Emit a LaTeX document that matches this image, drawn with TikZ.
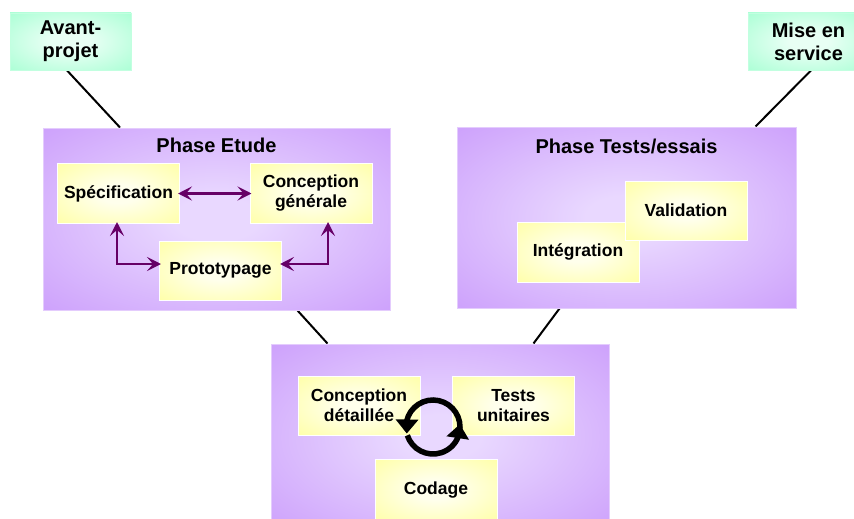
\documentclass[tikz,border=0pt]{standalone}
\usepackage{fontspec}
\setmainfont{Liberation Sans}
\usepackage{tikz}
\usetikzlibrary{positioning, arrows.meta, bending, backgrounds}
\definecolor{lilac}{HTML}{C999FB}
\definecolor{lilaclight}{HTML}{E9D8FF}
\definecolor{paleyellow}{HTML}{FFFF99}
\definecolor{yellowlight}{HTML}{FFFFEC}
\definecolor{mint}{HTML}{99FFCC}
\definecolor{mintlight}{HTML}{E8FFF4}
\definecolor{plum}{HTML}{660066}
\pgfdeclareradialshading{lilacglow}{\pgfpointorigin}{color(0bp)=(lilaclight); color(6bp)=(lilaclight); color(40bp)=(lilac); color(100bp)=(lilac)}
\pgfdeclareradialshading{yellowglow}{\pgfpointorigin}{color(0bp)=(yellowlight); color(8bp)=(yellowlight); color(42bp)=(paleyellow); color(100bp)=(paleyellow)}
\pgfdeclareradialshading{mintglow}{\pgfpointorigin}{color(0bp)=(mintlight); color(8bp)=(mintlight); color(44bp)=(mint); color(100bp)=(mint)}
\newcommand\stagefont{\fontsize{17.5}{20}\selectfont\bfseries}
\newcommand\phasefont{\fontsize{20}{23}\selectfont\bfseries}
\tikzset{
  milestone/.style={draw=white!40!mint, line width=0.8pt, shading=mintglow, align=center, font=\phasefont, minimum width=121pt, minimum height=57pt, inner sep=0pt},
  phase/.style={draw=white!50!lilac, line width=1pt, shading=lilacglow, inner sep=0pt},
  phasetitle/.style={font=\phasefont, inner sep=0pt},
  stage/.style={draw=white, line width=1pt, shading=yellowglow, align=center, font=\stagefont, minimum width=122pt, minimum height=60pt, inner sep=0pt},
  link/.style={line width=2pt, draw=black},
  loop/.style={{Stealth[length=14pt, width=14pt, inset=6pt]}-{Stealth[length=14pt, width=14pt, inset=6pt]}, line width=2.6pt, draw=plum, shorten <=-2pt, shorten >=-2pt},
  cyclearrow/.style={-{Triangle[length=14pt, width=22pt]}, line width=5.5pt, draw=black},
}
\begin{document}
\begin{tikzpicture}[x=1pt, y=1pt]
  \useasboundingbox (0,0) rectangle (854,-519);

  % Milestones (top corners)
  \node[milestone] (avant) at (70.5,-41.5) {Avant-\\projet};
  \node[milestone] (mise) at (808.5,-41.5) {Mise en\\service};

  % Phase boxes
  \node[phase, minimum width=347pt, minimum height=182pt] (etude) at (216.5,-219) {};
  \node[phasetitle, below=10pt of etude.north] (etudetitle) {Phase Etude};
  \node[phase, minimum width=339pt, minimum height=181pt] (tests) at (626.5,-217.5) {};
  \node[phasetitle, below=12pt of tests.north] (teststitle) {Phase Tests/essais};
  \node[phase, minimum width=338pt, minimum height=186pt] (realisation) at (440,-437) {};

  % Phase Etude: three stages
  \node[stage] (spec) at (118.5,-193.5) {Sp\'ecification};
  \node[stage] (concgen) at (311,-193.5) {Conception\\g\'en\'erale};
  \node[stage, minimum height=59pt] (proto) at (220.5,-270.5) {Prototypage};

  % Phase Tests/essais: integration under validation
  \node[stage] (integ) at (578,-252) {Int\'egration};
  \node[stage, minimum height=59pt] (valid) at (686,-210.5) {Validation};

  % Realisation: detailed design, unit tests, coding
  \node[stage, minimum height=59pt] (concdet) at (359,-405.5) {Conception\\d\'etaill\'ee};
  \node[stage, minimum height=59pt] (unit) at (513.5,-405.5) {Tests\\unitaires};
  \node[stage, minimum height=62pt] (codage) at (436,-490) {Codage};

  % Links between milestones and phases
  \begin{pgfonlayer}{background}
    \draw[link] ([xshift=-3.5pt]avant.south) -- ([xshift=-96.5pt]etude.north);
    \draw[link] ([xshift=2.5pt]mise.south) -- ([xshift=-41pt]tests.north east);
    \draw[link] ([xshift=81pt]etude.south) -- ([xshift=57pt]realisation.north west);
    \draw[link] ([xshift=-67pt]tests.south) -- ([xshift=-76pt]realisation.north east);
  \end{pgfonlayer}

  % Iterations inside Phase Etude
  \draw[loop] (spec.east) -- (concgen.west);
  \draw[loop] ([xshift=-1.5pt]spec.south) |- ([yshift=6.5pt]proto.west);
  \draw[loop] ([xshift=17pt]concgen.south) |- ([yshift=6.5pt]proto.east);

  % Cycle between the three stages
  \coordinate (cyc) at (433,-427);
  \draw[cyclearrow] (cyc) ++(-12:27) arc[start angle=-12, end angle=194, radius=27];
  \draw[cyclearrow] (cyc) ++(198:27) arc[start angle=198, end angle=366, radius=27];
\end{tikzpicture}
\end{document}
